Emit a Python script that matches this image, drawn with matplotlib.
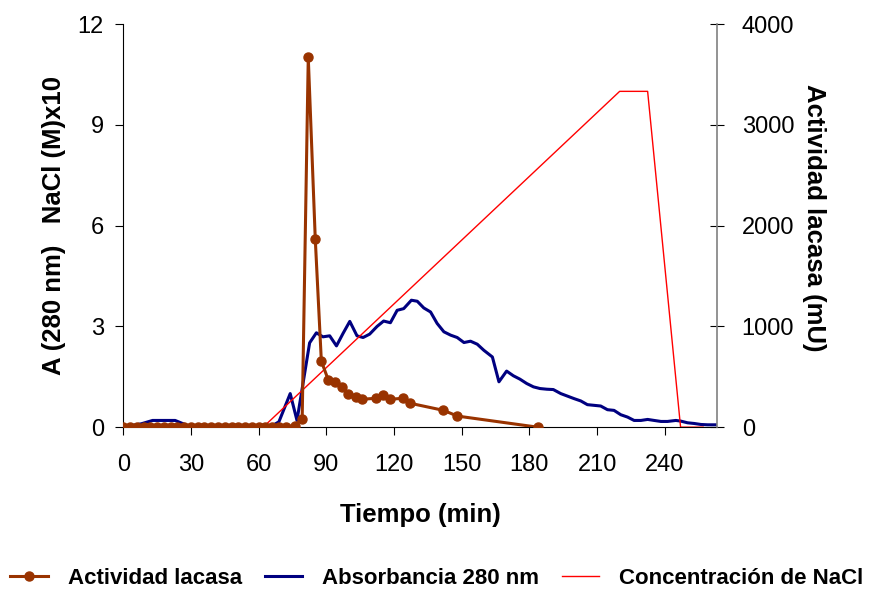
import matplotlib
matplotlib.use('Agg')
import matplotlib.pyplot as plt

plt.rcParams['font.family'] = ['Liberation Sans', 'DejaVu Sans']

# Absorbancia 280 nm (eje izquierdo)
abs_t = [0, 8, 13, 23, 27, 30, 65, 69, 74, 77, 82.6, 85.6, 88.5, 91.5, 94.5,
         97.4, 100.4, 103.6, 106.3, 109.2, 112.5, 115.4, 118.4, 121.4, 124.3,
         127.7, 130.3, 133.2, 136.2, 139.1, 142.1, 145.1, 148.0, 151.0, 153.9,
         156.9, 159.8, 163.6, 166.5, 169.9, 172.9, 175.8, 178.8, 181.8, 184.7,
         187.7, 190.6, 193.9, 199.8, 202.8, 205.7, 211.6, 214.6, 217.5, 220.5,
         223.5, 226.4, 229.4, 232.4, 235.3, 238.3, 241.2, 244.9, 247.1, 250.1,
         253.0, 256.0, 259.0, 262.7]
abs_val = [0, 0.1, 0.2, 0.2, 0.09, 0, 0, 0.16, 1.0, 0.2, 2.51, 2.81, 2.69, 2.72,
           2.42, 2.79, 3.15, 2.72, 2.67, 2.77, 3.0, 3.16, 3.11, 3.48, 3.53, 3.78,
           3.75, 3.55, 3.43, 3.09, 2.84, 2.74, 2.67, 2.52, 2.56, 2.47, 2.29, 2.09,
           1.35, 1.67, 1.53, 1.43, 1.3, 1.2, 1.15, 1.13, 1.12, 1.0, 0.85, 0.78,
           0.67, 0.63, 0.52, 0.5, 0.37, 0.3, 0.2, 0.2, 0.23, 0.2, 0.17, 0.17,
           0.2, 0.18, 0.13, 0.11, 0.08, 0.07, 0.07]

# Concentracion de NaCl (M)x10 (eje izquierdo)
nacl_t = [62, 220, 232.4, 247, 257]
nacl_val = [0, 10, 10, 0, 0]

# Actividad lacasa (mU, eje derecho)
lac_t = [0, 3, 6, 9, 12, 15, 18, 21, 24, 27, 30, 33, 36, 39, 42, 45, 48, 51,
         54, 57, 60, 63, 66, 69, 72, 76, 79.3, 82.0, 85.1, 87.8, 90.9, 94.0,
         97.1, 99.7, 103.3, 105.9, 112.2, 115.3, 118.4, 124.1, 127.2, 141.9,
         148.1, 183.6]
lac_val = [0, 0, 0, 0, 0, 0, 0, 0, 0, 0, 0, 0, 0, 0, 0, 0, 0, 0, 0, 0, 0, 0,
           0, 0, 0, 15, 80, 3670, 1870, 655, 467, 447, 397, 327, 297, 277, 287,
           317, 277, 287, 237, 167, 110, 0]

x_ticks = [0, 30, 60, 90, 120, 150, 180, 210, 240]
left_ticks = [0, 3, 6, 9, 12]
right_ticks = [0, 1000, 2000, 3000, 4000]

fig = plt.figure(figsize=(8.74, 5.90), dpi=100)
ax = fig.add_axes([0.141, 0.276, 0.679, 0.683])
ax2 = ax.twinx()

l_abs, = ax.plot(abs_t, abs_val, color='#000080', linewidth=2.2,
                 label='Absorbancia 280 nm')
l_nacl, = ax.plot(nacl_t, nacl_val, color='#FF0000', linewidth=1.0,
                  label='Concentración de NaCl')
l_lac, = ax2.plot(lac_t, lac_val, color='#993300', linewidth=2.2, marker='o',
                  markersize=6.5, label='Actividad lacasa')

ax.set_xlim(0, 263)
ax.set_ylim(0, 12)
ax2.set_ylim(0, 4000)
ax.set_xticks(x_ticks)
ax.set_yticks(left_ticks)
ax2.set_yticks(right_ticks)

for a in (ax, ax2):
    a.spines['top'].set_visible(False)
ax2.spines['left'].set_visible(False)
ax2.spines['bottom'].set_visible(False)
ax.spines['right'].set_visible(False)
ax2.spines['right'].set_color('#808080')
ax2.spines['right'].set_linewidth(1.2)

ax.tick_params(axis='both', labelsize=17, length=6, direction='out', pad=8)
ax.tick_params(axis='x', pad=13)
ax2.tick_params(axis='y', labelsize=17, length=10, direction='inout', pad=13)

ax.set_xlabel('Tiempo (min)', fontsize=18.5, fontweight='bold', labelpad=20)
ax.set_ylabel('A (280 nm)   NaCl (M)x10', fontsize=18.5, fontweight='bold',
              labelpad=8)
ax2.set_ylabel('Actividad lacasa (mU)', fontsize=18.5, fontweight='bold',
               rotation=270)
ax2.yaxis.set_label_coords(1.184, 0.519)

fig.legend(handles=[l_lac, l_abs, l_nacl], loc='center',
           bbox_to_anchor=(0.5, 12 / 590), ncol=3, frameon=False,
           prop={'size': 16, 'weight': 'bold'}, handlelength=1.7,
           columnspacing=1.0, handletextpad=0.9)

plt.savefig('out.png', dpi=100)
plt.close()
